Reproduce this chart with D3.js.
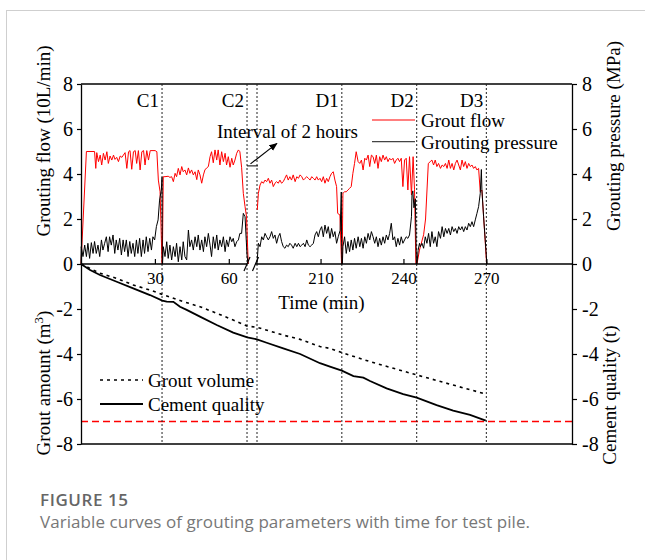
<!DOCTYPE html>
<html>
<head>
<meta charset="utf-8">
<script src="https://cdn.jsdelivr.net/npm/d3@7"></script>
<style>
  body { margin: 0; background: #fff; }
  svg { display: block; }
</style>
</head>
<body>
<div id="container"></div>
<script>
const width = 645, height = 560;

// grout flow (10L/min) against time (min), one array per grouting stage
const flowC1 = [[0,0],[2.2,5.0],[5.5,5.0],[6.0,4.25],[6.4,4.95],[7.1,4.55],[7.8,4.84],[8.4,4.4],[9.1,4.92],[9.8,4.62],[10.5,4.99],[11.1,4.47],[11.8,4.8],[12.5,4.62],[13.2,4.84],[13.8,4.65],[14.5,4.74],[15.2,4.55],[15.9,4.8],[16.6,4.74],[17.2,4.84],[17.9,4.95],[18.6,4.25],[19.3,4.99],[19.9,5.04],[20.6,4.21],[21.3,4.99],[22.0,5.04],[22.6,4.47],[23.3,5.04],[24.0,4.18],[24.7,4.99],[25.4,5.04],[26.0,4.4],[26.7,5.04],[27.4,4.62],[28.1,5.04],[30.1,5.04],[30.8,4.99],[31.4,3.73],[32.1,3.21],[32.9,0]];
const flowC2 = [[33.0,0],[33.4,3.88],[34.1,3.88],[35.4,3.9],[36.1,3.85],[36.8,3.88],[37.5,3.66],[38.2,4.03],[38.8,3.88],[39.5,4.25],[40.2,3.96],[40.9,4.33],[41.5,4.1],[42.2,4.18],[42.9,3.96],[43.6,4.27],[44.2,4.03],[44.9,4.18],[45.6,3.96],[46.3,4.1],[47.0,3.75],[47.6,4.18],[48.3,3.96],[49.0,3.59],[49.7,3.96],[50.3,4.18],[51.0,4.27],[51.7,4.33],[52.4,4.77],[53.0,4.99],[53.7,4.5],[54.4,5.07],[55.1,4.62],[55.7,5.07],[56.4,4.4],[57.1,4.99],[57.8,4.55],[58.5,4.92],[59.1,4.4],[59.8,4.77],[60.5,4.3],[61.2,4.7],[61.8,4.4],[62.5,4.62],[63.2,4.92],[63.9,5.07],[64.5,4.99],[65.2,4.3],[65.9,3.14],[66.6,2.55],[67.2,2.1],[67.9,0]];
const flowD1 = [[187.1,2.4],[187.5,3.14],[188.1,3.51],[188.7,3.66],[189.3,3.59],[189.9,3.73],[190.5,3.66],[191.1,3.81],[191.7,3.59],[192.3,3.73],[192.9,3.44],[193.5,3.59],[194.1,3.66],[194.7,3.59],[195.3,3.73],[195.9,3.59],[196.5,3.66],[197.1,3.81],[197.7,3.96],[198.3,3.73],[198.9,3.88],[199.5,3.73],[200.1,3.96],[200.8,3.66],[201.4,3.88],[202.0,3.81],[202.6,3.96],[203.2,3.88],[203.8,3.73],[204.4,3.81],[205.0,3.88],[205.6,3.81],[206.2,3.73],[206.8,3.88],[207.4,3.81],[208.0,3.73],[208.6,3.88],[209.2,3.73],[209.8,3.81],[210.4,3.66],[211.0,3.88],[211.6,3.59],[212.2,3.81],[212.8,3.66],[213.4,3.88],[214.0,4.03],[214.6,4.1],[215.2,3.73],[215.8,3.44],[216.2,2.25],[217.0,2.18],[217.6,0]];
const flowD2 = [[217.8,0],[218.1,3.14],[218.7,3.21],[219.3,3.21],[219.9,3.29],[220.5,3.36],[221.1,3.44],[221.7,4.03],[222.3,4.47],[222.9,4.99],[223.6,4.55],[224.2,4.47],[224.8,4.62],[225.4,4.18],[226.0,4.7],[226.6,4.62],[227.2,4.84],[227.8,4.33],[228.4,4.84],[229.0,4.77],[229.6,4.47],[230.2,4.84],[230.8,4.25],[231.4,4.77],[232.0,4.55],[232.6,4.84],[233.2,4.62],[233.8,4.77],[234.4,4.55],[235.0,4.7],[235.6,4.62],[236.2,4.7],[236.8,4.47],[237.4,4.62],[238.0,4.7],[238.6,4.55],[239.2,4.7],[239.8,3.44],[240.4,4.62],[241.0,4.7],[241.6,3.29],[242.2,4.77],[242.9,3.07],[243.5,4.77],[244.0,3.3],[244.5,0]];
const flowD3 = [[244.9,0],[245.8,0.62],[247.3,1.3],[248.0,2.0],[249.0,4.47],[249.7,4.55],[250.3,4.62],[250.9,4.4],[251.5,4.62],[252.1,4.33],[252.7,4.47],[253.4,4.25],[254.0,4.4],[254.6,4.33],[255.2,4.47],[255.8,4.25],[256.4,4.62],[257.0,4.25],[257.6,4.47],[258.2,4.18],[258.8,4.47],[259.4,4.62],[260.0,4.4],[260.6,4.18],[261.2,4.62],[261.8,4.33],[262.4,4.55],[263.0,4.25],[263.6,4.47],[264.2,4.33],[264.8,4.4],[265.4,4.25],[266.0,4.33],[266.6,4.18],[267.2,4.25],[267.8,3.21],[268.4,3.29],[270.1,0]];

// grouting pressure (MPa) against time (min)
const pressC1 = [[0,0],[0.1,0.77],[0.8,0.33],[1.5,0.84],[2.2,0.33],[2.8,0.92],[3.5,0.25],[4.2,0.95],[4.9,0.47],[5.5,1.0],[6.2,0.47],[6.9,0.84],[7.6,0.33],[8.3,1.07],[8.9,0.62],[9.6,0.92],[10.3,1.21],[11.0,0.55],[11.6,1.21],[12.3,0.84],[13.0,1.29],[13.7,0.47],[14.3,1.07],[15.0,0.62],[15.7,1.14],[16.4,0.4],[17.1,1.07],[17.7,0.55],[18.4,1.07],[19.1,0.33],[19.8,1.0],[20.4,0.47],[21.1,0.92],[21.8,0.33],[22.5,1.07],[23.1,0.47],[23.8,1.14],[24.5,0.33],[25.2,1.07],[25.8,0.47],[26.5,1.21],[27.2,0.55],[27.9,1.14],[28.6,0.62],[29.2,1.21],[29.9,1.07],[30.6,1.66],[31.3,1.96],[31.9,2.84],[32.6,3.29],[32.9,3.85],[33.0,0]];
const pressC2 = [[33.1,0],[33.4,0.77],[34.1,0.33],[34.8,0.99],[35.4,0.25],[36.1,0.84],[36.8,0.18],[37.5,0.77],[38.2,0.33],[38.8,0.92],[39.5,0.1],[40.2,0.77],[40.9,0.18],[41.5,0.99],[42.2,0.33],[42.9,0.18],[43.6,1.51],[44.2,0.77],[44.9,1.07],[45.6,0.62],[46.3,1.21],[47.0,0.77],[47.6,1.29],[48.3,0.62],[49.0,1.07],[49.7,0.55],[50.3,1.21],[51.0,0.77],[51.7,1.36],[52.4,0.84],[53.0,0.33],[53.7,1.21],[54.4,0.69],[55.1,1.29],[55.7,0.62],[56.4,1.07],[57.1,0.77],[57.8,1.21],[58.5,0.55],[59.1,1.07],[59.8,0.77],[60.5,1.21],[61.2,0.99],[61.8,1.14],[62.5,0.77],[63.2,0.99],[63.9,1.07],[64.5,1.36],[65.2,1.36],[65.9,2.25],[66.6,2.1],[67.4,0.4],[67.8,0]];
const pressD1 = [[186.9,0],[187.5,0.92],[188.1,0.77],[188.7,1.21],[189.3,1.07],[189.9,1.36],[190.5,1.21],[191.1,1.07],[191.7,1.21],[192.3,1.44],[192.9,1.14],[193.5,1.29],[194.1,0.92],[194.7,1.21],[195.3,1.36],[195.9,1.0],[196.5,0.77],[197.1,0.7],[197.7,0.84],[198.3,0.77],[198.9,0.92],[199.5,0.84],[200.1,0.7],[200.8,0.92],[201.4,0.77],[202.0,0.92],[202.6,0.77],[203.2,0.84],[203.8,0.92],[204.4,0.77],[205.0,1.07],[205.6,0.84],[206.2,0.77],[206.8,0.84],[207.4,0.92],[208.0,1.29],[208.6,1.44],[209.2,1.21],[209.8,1.51],[210.4,1.66],[211.0,1.21],[211.6,1.73],[212.2,1.36],[212.8,1.66],[213.4,1.14],[214.0,1.58],[214.6,1.21],[215.2,1.44],[215.8,0.92],[216.4,1.21],[217.1,1.5],[217.5,3.2],[217.7,0]];
const pressD2 = [[217.9,0],[218.1,0.77],[218.7,1.21],[219.3,0.47],[219.9,1.0],[220.5,0.55],[221.1,1.07],[221.7,0.62],[222.3,1.14],[222.9,0.7],[223.6,1.21],[224.2,0.77],[224.8,1.14],[225.4,0.7],[226.0,1.21],[226.6,0.92],[227.2,1.36],[227.8,1.07],[228.4,1.44],[229.0,1.21],[229.6,0.92],[230.2,1.21],[230.8,0.77],[231.4,1.14],[232.0,0.84],[232.6,1.21],[233.2,0.92],[233.8,1.29],[234.4,1.07],[235.0,1.36],[235.6,1.81],[236.2,1.07],[236.8,1.21],[237.4,0.77],[238.0,1.14],[238.6,0.84],[239.2,1.21],[239.8,0.92],[240.4,1.07],[241.0,1.21],[241.6,1.14],[242.2,1.29],[242.9,2.1],[243.1,3.1],[243.4,3.25],[243.8,2.5],[244.3,2.9],[244.7,0]];
const pressD3 = [[244.9,0],[245.3,0.6],[245.8,0.92],[246.1,0.77],[246.7,0.92],[247.3,0.7],[247.9,1.21],[248.5,0.92],[249.1,1.36],[249.7,0.77],[250.3,1.44],[250.9,0.92],[251.5,1.21],[252.1,0.77],[252.7,1.44],[253.4,1.14],[254.0,1.66],[254.6,1.21],[255.2,1.58],[255.8,1.36],[256.4,1.58],[257.0,1.29],[257.6,1.66],[258.2,1.44],[258.8,1.58],[259.4,1.36],[260.0,1.66],[260.6,1.51],[261.2,1.66],[261.8,1.44],[262.4,1.66],[263.0,1.51],[263.6,1.81],[264.2,1.66],[264.8,1.88],[265.4,1.66],[266.0,1.96],[266.6,2.25],[267.2,2.55],[267.8,3.14],[268.2,4.2],[268.4,3.29],[269.0,2.1],[269.6,1.07],[270.2,0]];

// cumulative grout volume (m3) and cement quality (t), drawn downward
const groutVolume = [[0,0],[7.7,-0.41],[14.5,-0.64],[21.2,-0.93],[28.0,-1.16],[33.0,-1.35],[41.5,-1.67],[48.3,-1.9],[55.1,-2.19],[61.8,-2.49],[67.5,-2.76],[187,-2.81],[196.5,-3.16],[202.6,-3.35],[209.8,-3.67],[213.4,-3.75],[217.7,-3.94],[227.9,-4.34],[244.8,-4.93],[258.0,-5.38],[268.9,-5.75]];
const cementQuality = [[0,0],[3.7,-0.27],[7.7,-0.49],[14.5,-0.79],[21.2,-1.08],[28.0,-1.38],[33.0,-1.63],[34.8,-1.67],[37.5,-1.68],[40.2,-1.9],[42.9,-2.04],[48.3,-2.34],[55.1,-2.71],[61.8,-3.05],[67.5,-3.26],[187,-3.35],[190.5,-3.5],[196.5,-3.75],[202.6,-4.0],[209.8,-4.41],[213.4,-4.56],[217.7,-4.74],[221.9,-4.98],[225.5,-5.05],[227.9,-5.2],[233.9,-5.53],[239.9,-5.78],[244.8,-5.94],[252.0,-6.27],[258.0,-6.52],[264.1,-6.71],[269.8,-6.96]];

const stageNames = ["C1", "C2", "D1", "D2", "D3"];
const stageEnds = [32.9, 67.4, 217.7, 244.8, 270];
const resumeTime = 187;   // grouting restarts after the 2 hour interval
const limitLine = -7;
const xTicks = [30, 60, 210, 240, 270];
const yTicks = [8, 6, 4, 2, 0, -2, -4, -6, -8];

const serif = "'Liberation Serif', 'Times New Roman', serif";

const svg = d3.select("#container").append("svg")
  .attr("width", width)
  .attr("height", height);

// card outline
svg.append("rect")
  .attr("x", 6.5).attr("y", 10.5)
  .attr("width", 700).attr("height", 600)
  .attr("fill", "none").attr("stroke", "#cfcfcf");

/* SCALES */
// broken time axis: 0-68 min, then jump to 187-301 min
const xScale = d3.scaleLinear()
  .domain([0, 68, 187, 301])
  .range([81, 248.5, 257, 572]);

const yScale = d3.scaleLinear()
  .domain([-8, 8])
  .range([444, 84]);

const x0 = xScale(0), x1 = xScale(301);

// frame top and bottom
svg.append("line").attr("x1", x0).attr("x2", x1).attr("y1", yScale(8)).attr("y2", yScale(8))
  .attr("stroke", "#000").attr("stroke-width", 1.3);
svg.append("line").attr("x1", x0).attr("x2", x1).attr("y1", yScale(-8)).attr("y2", yScale(-8))
  .attr("stroke", "#000").attr("stroke-width", 1.3);

// red limit line
svg.append("line")
  .attr("x1", x0).attr("x2", x1)
  .attr("y1", yScale(limitLine)).attr("y2", yScale(limitLine))
  .attr("stroke", "#ff0000").attr("stroke-width", 1.5)
  .attr("stroke-dasharray", "7,4");

// stage separators
const sepTimes = [stageEnds[0], stageEnds[1], resumeTime, stageEnds[2], stageEnds[3], stageEnds[4]];
svg.selectAll("line.sep")
  .data(sepTimes)
  .join("line")
  .attr("class", "sep")
  .attr("x1", d => xScale(d)).attr("x2", d => xScale(d))
  .attr("y1", yScale(8)).attr("y2", yScale(-8))
  .attr("stroke", "#222").attr("stroke-width", 1)
  .attr("stroke-dasharray", "2,2");

svg.selectAll("text.stage")
  .data(stageNames)
  .join("text")
  .attr("class", "stage")
  .attr("x", (d, i) => xScale(stageEnds[i]) - 3)
  .attr("y", 106.5)
  .attr("text-anchor", "end")
  .style("font-family", serif)
  .style("font-size", "19px")
  .text(d => d);

/* CURVES */
const line = d3.line()
  .x(d => xScale(d[0]))
  .y(d => yScale(d[1]));

const flowSegs = [flowC1, flowC2, flowD1, flowD2, flowD3];
const pressSegs = [pressC1, pressC2, pressD1, pressD2, pressD3];

svg.selectAll("path.flow")
  .data(flowSegs)
  .join("path")
  .attr("class", "flow")
  .attr("d", line)
  .attr("fill", "none")
  .attr("stroke", "#ff0000")
  .attr("stroke-width", 1);

svg.selectAll("path.press")
  .data(pressSegs)
  .join("path")
  .attr("class", "press")
  .attr("d", line)
  .attr("fill", "none")
  .attr("stroke", "#000")
  .attr("stroke-width", 1);

svg.append("path")
  .attr("d", line(groutVolume))
  .attr("fill", "none")
  .attr("stroke", "#000")
  .attr("stroke-width", 1.6)
  .attr("stroke-dasharray", "3,4");

svg.append("path")
  .attr("d", line(cementQuality))
  .attr("fill", "none")
  .attr("stroke", "#000")
  .attr("stroke-width", 1.8);

/* AXES */
const fmt = d => String(d);

const xAxisG = svg.append("g")
  .attr("transform", `translate(0,${yScale(0)})`)
  .call(d3.axisBottom(xScale).tickValues(xTicks).tickSizeInner(-5).tickSizeOuter(0).tickPadding(8))
  .call(g => g.select(".domain").remove());
xAxisG.selectAll("text").style("font-family", serif).style("font-size", "17px").attr("fill", "#000");
xAxisG.selectAll("line").attr("stroke", "#000").attr("stroke-width", 1.2);

// zero line, broken at the interval
const y0 = yScale(0);
const bk1 = xScale(68) - 1.5, bk2 = xScale(resumeTime) - 1.5;
svg.append("line").attr("x1", x0).attr("x2", bk1).attr("y1", y0).attr("y2", y0)
  .attr("stroke", "#000").attr("stroke-width", 1.3);
svg.append("line").attr("x1", bk2).attr("x2", x1).attr("y1", y0).attr("y2", y0)
  .attr("stroke", "#000").attr("stroke-width", 1.3);
svg.selectAll("line.brk")
  .data([bk1, bk2])
  .join("line")
  .attr("class", "brk")
  .attr("x1", d => d - 3).attr("x2", d => d + 3)
  .attr("y1", y0 + 7).attr("y2", y0 - 7)
  .attr("stroke", "#000").attr("stroke-width", 1.2);

const leftAxis = svg.append("g")
  .attr("transform", `translate(${x0},0)`)
  .call(d3.axisLeft(yScale).tickValues(yTicks).tickFormat(fmt).tickSizeInner(4).tickSizeOuter(0).tickPadding(4));
const rightAxis = svg.append("g")
  .attr("transform", `translate(${x1},0)`)
  .call(d3.axisRight(yScale).tickValues(yTicks).tickFormat(fmt).tickSizeInner(5).tickSizeOuter(0).tickPadding(5));
[leftAxis, rightAxis].forEach(g => {
  g.selectAll("text").style("font-family", serif).style("font-size", "20px").attr("fill", "#000");
  g.selectAll("line").attr("stroke", "#000").attr("stroke-width", 1.2);
  g.select(".domain").attr("stroke", "#000").attr("stroke-width", 1.3);
});

/* LABELS */
function vLabel(x, y, txt) {
  return svg.append("text")
    .attr("transform", `translate(${x},${y}) rotate(-90)`)
    .attr("text-anchor", "middle")
    .style("font-family", serif)
    .style("font-size", "19px")
    .text(txt);
}
vLabel(50, 141, "Grouting flow (10L/min)");
vLabel(620, 136, "Grouting pressure (MPa)");
vLabel(616, 395, "Cement quality (t)");
const ga = vLabel(50, 383, "Grout amount (m");
ga.append("tspan").attr("dy", -7).style("font-size", "13px").text("3");
ga.append("tspan").attr("dy", 7).text(")");

svg.append("text")
  .attr("x", 321.5).attr("y", 309)
  .attr("text-anchor", "middle")
  .style("font-family", serif).style("font-size", "19px")
  .text("Time (min)");

// interval annotation
svg.append("defs").append("marker")
  .attr("id", "arrow")
  .attr("viewBox", "0 0 10 10")
  .attr("refX", 9).attr("refY", 5)
  .attr("markerWidth", 7).attr("markerHeight", 7)
  .attr("orient", "auto")
  .append("path").attr("d", "M0,1 L10,5 L0,9 Z").attr("fill", "#000");

svg.append("line")
  .attr("x1", xScale(67.4)).attr("x2", xScale(resumeTime) + 1)
  .attr("y1", yScale(4.36)).attr("y2", yScale(4.36))
  .attr("stroke", "#000").attr("stroke-width", 1);
svg.append("line")
  .attr("x1", xScale(68) + 2).attr("y1", yScale(4.45))
  .attr("x2", xScale(194.2)).attr("y2", yScale(5.36))
  .attr("stroke", "#000").attr("stroke-width", 1.2)
  .attr("marker-end", "url(#arrow)");
svg.append("text")
  .attr("x", 217).attr("y", 138.3)
  .style("font-family", serif).style("font-size", "19px")
  .text("Interval of 2 hours");

/* LEGENDS */
const legTop = [
  { name: "Grout flow", color: "#ff0000", y: 120, ty: 126.7 },
  { name: "Grouting pressure", color: "#444", y: 141.7, ty: 149 }
];
svg.selectAll("line.legTop").data(legTop).join("line")
  .attr("class", "legTop")
  .attr("x1", 372).attr("x2", 415)
  .attr("y1", d => d.y).attr("y2", d => d.y)
  .attr("stroke", d => d.color).attr("stroke-width", 1.2);
svg.selectAll("text.legTop").data(legTop).join("text")
  .attr("class", "legTop")
  .attr("x", 421).attr("y", d => d.ty)
  .style("font-family", serif).style("font-size", "19px")
  .text(d => d.name);

const legBot = [
  { name: "Grout volume", dash: "3,4", w: 1.6, y: 380, ty: 386.7 },
  { name: "Cement quality", dash: null, w: 1.8, y: 404, ty: 410.7 }
];
svg.selectAll("line.legBot").data(legBot).join("line")
  .attr("class", "legBot")
  .attr("x1", 100).attr("x2", 143)
  .attr("y1", d => d.y).attr("y2", d => d.y)
  .attr("stroke", "#000").attr("stroke-width", d => d.w)
  .attr("stroke-dasharray", d => d.dash);
svg.selectAll("text.legBot").data(legBot).join("text")
  .attr("class", "legBot")
  .attr("x", 148).attr("y", d => d.ty)
  .style("font-family", serif).style("font-size", "19px")
  .text(d => d.name);

/* CAPTION */
svg.append("text")
  .attr("x", 40).attr("y", 506)
  .style("font-family", "'Open Sans', sans-serif")
  .style("font-size", "17px").style("font-weight", 600)
  .attr("fill", "#666")
  .attr("textLength", 88).attr("lengthAdjust", "spacing")
  .text("FIGURE 15");
svg.append("text")
  .attr("x", 40).attr("y", 528)
  .style("font-family", "'Open Sans', sans-serif")
  .style("font-size", "17px")
  .attr("fill", "#777")
  .attr("textLength", 490).attr("lengthAdjust", "spacing")
  .text("Variable curves of grouting parameters with time for test pile.");
</script>
</body>
</html>
